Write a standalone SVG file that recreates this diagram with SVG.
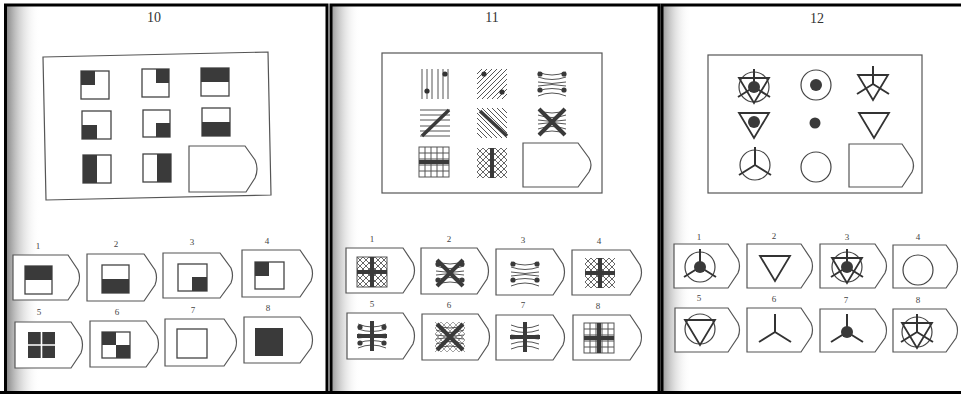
<svg xmlns="http://www.w3.org/2000/svg" xmlns:xlink="http://www.w3.org/1999/xlink" width="961" height="394" viewBox="0 0 961 394">
<style>
.frame{fill:none;stroke:#000;stroke-width:3}
.box{fill:none;stroke:#555;stroke-width:1.2}
.opt{fill:#fff;stroke:#555;stroke-width:1.2}
.sq{fill:#fff;stroke:#444;stroke-width:1.3}
.dk{fill:#3a3a3a}
.ttl{font-family:"Liberation Serif","DejaVu Serif",serif;font-size:14px;fill:#333;text-anchor:middle}
.num{font-family:"Liberation Serif","DejaVu Serif",serif;font-size:9px;fill:#444;text-anchor:middle}
.k{stroke:#3a3a3a;stroke-width:3.5;fill:none}
</style>
<defs>
<linearGradient id="shade" x1="0" y1="0" x2="1" y2="0">
<stop offset="0" stop-color="#777" stop-opacity="0.9"/>
<stop offset="0.4" stop-color="#aaa" stop-opacity="0.5"/>
<stop offset="1" stop-color="#fff" stop-opacity="0"/>
</linearGradient>
<clipPath id="c30"><rect x="0" y="0" width="30" height="30"/></clipPath>
<g id="vl" fill="none" stroke="#555" stroke-width="1"><path d="M2,0V30M7,0V30M12,0V30M18,0V30M23,0V30M28,0V30"/></g>
<g id="hl" fill="none" stroke="#555" stroke-width="1"><path d="M0,2H30M0,7H30M0,12H30M0,18H30M0,23H30M0,28H30"/></g>
<g id="dl" fill="none" stroke="#555" stroke-width="1" clip-path="url(#c30)"><path d="M0,5L5,0M0,10L10,0M0,15L15,0M0,20L20,0M0,25L25,0M0,30L30,0M5,30L30,5M10,30L30,10M15,30L30,15M20,30L30,20M25,30L30,25"/></g>
<g id="bl" fill="none" stroke="#555" stroke-width="1" clip-path="url(#c30)"><path d="M30,5L25,0M30,10L20,0M30,15L15,0M30,20L10,0M30,25L5,0M30,30L0,0M25,30L0,5M20,30L0,10M15,30L0,15M10,30L0,20M5,30L0,25"/></g>
<g id="xh" fill="none" stroke="#555" stroke-width="0.9" clip-path="url(#c30)"><path d="M0,6L6,0M0,12L12,0M0,18L18,0M0,24L24,0M0,30L30,0M6,30L30,6M12,30L30,12M18,30L30,18M24,30L30,24M30,6L24,0M30,12L18,0M30,18L12,0M30,24L6,0M30,30L0,0M24,30L0,6M18,30L0,12M12,30L0,18M6,30L0,24"/></g>
<g id="grid" fill="none" stroke="#555" stroke-width="1"><rect x="0" y="0" width="30" height="30"/><path d="M6,0V30M12,0V30M18,0V30M24,0V30M0,6H30M0,12H30M0,18H30M0,24H30"/></g>
<g id="arcs" fill="none" stroke="#555" stroke-width="1"><path d="M1,3Q15,9 29,3M1,8Q15,13 29,8M1,13Q15,16 29,13M1,17Q15,14 29,17M1,22Q15,17 29,22M1,27Q15,21 29,27"/></g>
<g id="plus"><path d="M15,0V30M0,15H30" stroke="#3a3a3a" stroke-width="4" fill="none"/></g>
<g id="ex"><path d="M2,2L28,28M28,2L2,28" stroke="#3a3a3a" stroke-width="4" fill="none"/></g>
<g id="dots4" fill="#3a3a3a"><circle cx="3" cy="5" r="2.6"/><circle cx="27" cy="5" r="2.6"/><circle cx="3" cy="21" r="2.6"/><circle cx="27" cy="21" r="2.6"/></g>
<circle id="circ" cx="0" cy="0" r="15" fill="none" stroke="#444" stroke-width="1.2"/>
<path id="tri" d="M-15,-9H15L0,16Z" fill="none" stroke="#333" stroke-width="1.8" stroke-linejoin="miter"/>
<path id="spk" d="M0,0V-18M0,0L-16,10M0,0L16,10" fill="none" stroke="#333" stroke-width="2"/>
<circle id="dot" cx="0" cy="0" r="6" fill="#3a3a3a"/>
</defs>

<rect x="0" y="0" width="961" height="394" fill="#fff"/>

<g id="shading">
<rect x="6" y="6" width="34" height="385" fill="url(#shade)"/>
<rect x="332" y="6" width="28" height="385" fill="url(#shade)" opacity="0.8"/>
<rect x="663" y="6" width="28" height="385" fill="url(#shade)" opacity="0.8"/>
</g>

<g id="frames">
<path class="frame" d="M5.5,392V5H327V392"/>
<path class="frame" d="M331,392V5H659V392"/>
<path class="frame" d="M662,392V5H961"/>
<path class="frame" d="M0,392.5H961"/>
</g>

<g id="titles">
<text class="ttl" x="154" y="22">10</text>
<text class="ttl" x="492" y="22">11</text>
<text class="ttl" x="817" y="23">12</text>
</g>

<!-- ===== Puzzle 10 ===== -->
<g id="p10-matrix">
<polygon class="box" points="43,57 268,52 271,195 46,200"/>
<g id="p10-c1"><rect class="sq" x="81" y="71" width="28" height="28"/><rect class="dk" x="81" y="71" width="14" height="14"/></g>
<g id="p10-c2"><rect class="sq" x="142" y="69" width="27" height="28"/><rect class="dk" x="156" y="69" width="13" height="14"/></g>
<g id="p10-c3"><rect class="sq" x="201" y="68" width="28" height="28"/><rect class="dk" x="201" y="68" width="28" height="14"/></g>
<g id="p10-c4"><rect class="sq" x="82" y="111" width="29" height="28"/><rect class="dk" x="82" y="125" width="15" height="14"/></g>
<g id="p10-c5"><rect class="sq" x="143" y="110" width="27" height="27"/><rect class="dk" x="156" y="123" width="14" height="14"/></g>
<g id="p10-c6"><rect class="sq" x="202" y="108" width="28" height="28"/><rect class="dk" x="202" y="122" width="28" height="14"/></g>
<g id="p10-c7"><rect class="sq" x="83" y="155" width="28" height="28"/><rect class="dk" x="83" y="155" width="14" height="28"/></g>
<g id="p10-c8"><rect class="sq" x="143" y="154" width="28" height="28"/><rect class="dk" x="157" y="154" width="14" height="28"/></g>
<path id="p10-blank" class="opt" d="M189,146H245L255,160Q259,169 255,178L246,192H189Z"/>
</g>

<g id="p10-options">
<g id="p10-o1"><text class="num" x="38" y="249">1</text><path class="opt" d="M13,255H68L78,270Q81,277.5 78,285L68,300H13Z"/><rect class="sq" x="25" y="266" width="27" height="28"/><rect class="dk" x="25" y="266" width="27" height="14"/></g>
<g id="p10-o2"><text class="num" x="116" y="247">2</text><path class="opt" d="M87,254H144L155,270Q158,277.5 155,285L144,301H87Z"/><rect class="sq" x="102" y="265" width="27" height="28"/><rect class="dk" x="102" y="279" width="27" height="14"/></g>
<g id="p10-o3"><text class="num" x="192" y="245">3</text><path class="opt" d="M163,253H220L231,268Q234,275.5 231,283L220,298H163Z"/><rect class="sq" x="178" y="264" width="29" height="27"/><rect class="dk" x="192" y="277" width="15" height="14"/></g>
<g id="p10-o4"><text class="num" x="267" y="244">4</text><path class="opt" d="M242,250H300L311,266Q314,273.5 311,281L300,297H242Z"/><rect class="sq" x="255" y="262" width="29" height="27"/><rect class="dk" x="255" y="262" width="14" height="14"/></g>
<g id="p10-o5"><text class="num" x="39" y="315">5</text><path class="opt" d="M15,322H71L81,337Q84,345 81,353L71,368H15Z"/><rect class="dk" x="28" y="332" width="27" height="26"/><path d="M41.5,332V358M28,345H55" stroke="#fff" stroke-width="1.6"/></g>
<g id="p10-o6"><text class="num" x="117" y="315">6</text><path class="opt" d="M90,321H146L157,336Q160,344 157,352L146,367H90Z"/><rect class="sq" x="102" y="332" width="28" height="26"/><rect class="dk" x="102" y="332" width="14" height="13"/><rect class="dk" x="116" y="345" width="14" height="13"/></g>
<g id="p10-o7"><text class="num" x="193" y="313">7</text><path class="opt" d="M165,319H224L235,335Q238,342.5 235,350L224,366H165Z"/><rect class="sq" x="177" y="329" width="30" height="29"/></g>
<g id="p10-o8"><text class="num" x="268" y="311">8</text><path class="opt" d="M244,317H300L311,332Q314,340 311,348L300,363H244Z"/><rect class="dk" x="255" y="328" width="28" height="28"/></g>
</g>

<!-- ===== Puzzle 11 ===== -->
<g id="p11-matrix">
<rect class="box" x="382" y="53" width="220" height="140"/>
<g id="p11-c1"><use xlink:href="#vl" x="420" y="69"/><circle cx="427" cy="91" r="2.6" fill="#333"/><circle cx="445" cy="74" r="2.6" fill="#333"/></g>
<g id="p11-c2"><use xlink:href="#dl" x="477" y="69"/><circle cx="484" cy="74" r="2.6" fill="#333"/><circle cx="502" cy="92" r="2.6" fill="#333"/></g>
<g id="p11-c3"><use xlink:href="#arcs" x="537" y="69"/><use xlink:href="#dots4" x="537" y="69"/></g>
<g id="p11-c4"><use xlink:href="#hl" x="420" y="108"/><path class="k" d="M422,136L449,110"/></g>
<g id="p11-c5"><use xlink:href="#bl" x="477" y="108"/><path class="k" d="M480,111L507,136"/></g>
<g id="p11-c6"><use xlink:href="#arcs" x="537" y="107"/><use xlink:href="#ex" x="537" y="107"/></g>
<g id="p11-c7"><use xlink:href="#grid" x="419" y="147"/><path d="M419,162H449" stroke="#3a3a3a" stroke-width="4"/></g>
<g id="p11-c8"><use xlink:href="#xh" x="477" y="148"/><path d="M492,148V178" stroke="#3a3a3a" stroke-width="4"/></g>
<path id="p11-blank" class="opt" d="M523,143H578L589,158Q593,165 589,172L578,187H523Z"/>
</g>

<g id="p11-options">
<g id="p11-o1"><text class="num" x="372" y="242">1</text><path class="opt" d="M346,248H403L413,263Q416,270.5 413,278L403,293H346Z"/><rect x="357" y="257" width="30" height="30" fill="none" stroke="#555"/><use xlink:href="#xh" x="357" y="257"/><use xlink:href="#plus" x="357" y="257"/></g>
<g id="p11-o2"><text class="num" x="449" y="242">2</text><path class="opt" d="M421,248H477L487,263Q490,271 487,279L477,294H421Z"/><use xlink:href="#arcs" x="435" y="258"/><use xlink:href="#ex" x="435" y="258"/><use xlink:href="#dots4" x="435" y="259"/></g>
<g id="p11-o3"><text class="num" x="523" y="243">3</text><path class="opt" d="M496,249H553L563,264Q566,272 563,280L553,295H496Z"/><use xlink:href="#arcs" x="510" y="259"/><use xlink:href="#dots4" x="510" y="259"/></g>
<g id="p11-o4"><text class="num" x="599" y="244">4</text><path class="opt" d="M572,250H630L640,265Q643,272.5 640,280L630,295H572Z"/><use xlink:href="#xh" x="585" y="258"/><use xlink:href="#plus" x="585" y="258"/></g>
<g id="p11-o5"><text class="num" x="372" y="307">5</text><path class="opt" d="M347,313H403L413,328Q416,336 413,344L403,359H347Z"/><use xlink:href="#arcs" x="357" y="321"/><use xlink:href="#plus" x="357" y="321"/><use xlink:href="#dots4" x="357" y="322"/></g>
<g id="p11-o6"><text class="num" x="449" y="308">6</text><path class="opt" d="M422,314H478L488,329Q491,337 488,345L478,360H422Z"/><use xlink:href="#arcs" x="435" y="322"/><use xlink:href="#xh" x="435" y="322" opacity="0.6"/><use xlink:href="#ex" x="435" y="322"/></g>
<g id="p11-o7"><text class="num" x="523" y="308">7</text><path class="opt" d="M496,315H553L563,330Q566,337.5 563,345L553,360H496Z"/><use xlink:href="#arcs" x="510" y="322"/><use xlink:href="#plus" x="510" y="322"/></g>
<g id="p11-o8"><text class="num" x="598" y="309">8</text><path class="opt" d="M573,315H630L640,330Q643,337.5 640,345L630,360H573Z"/><use xlink:href="#grid" x="584" y="323"/><use xlink:href="#plus" x="584" y="323"/></g>
</g>

<!-- ===== Puzzle 12 ===== -->
<g id="p12-matrix">
<rect class="box" x="708" y="55" width="214" height="138"/>
<g id="p12-c1"><use xlink:href="#circ" x="754" y="87"/><use xlink:href="#tri" x="754" y="87"/><use xlink:href="#spk" x="754" y="87"/><use xlink:href="#dot" x="754" y="87"/></g>
<g id="p12-c2"><use xlink:href="#circ" x="816" y="85"/><use xlink:href="#dot" x="816" y="85"/></g>
<g id="p12-c3"><use xlink:href="#tri" x="873" y="84"/><use xlink:href="#spk" x="873" y="84"/></g>
<g id="p12-c4"><use xlink:href="#tri" x="754" y="122"/><use xlink:href="#dot" x="754" y="122"/></g>
<g id="p12-c5"><circle cx="815" cy="123" r="5.5" fill="#3a3a3a"/></g>
<g id="p12-c6"><use xlink:href="#tri" x="874" y="122"/></g>
<g id="p12-c7"><use xlink:href="#circ" x="755" y="165"/><use xlink:href="#spk" x="755" y="165"/></g>
<g id="p12-c8"><use xlink:href="#circ" x="816" y="167"/></g>
<path id="p12-blank" class="opt" d="M849,144H902L912,159Q915,165.5 912,172L902,187H849Z"/>
</g>

<g id="p12-options">
<g id="p12-o1"><text class="num" x="699" y="240">1</text><path class="opt" d="M674,244H728L738,259Q741,266 738,273L728,288H674Z"/><use xlink:href="#circ" x="700" y="267"/><use xlink:href="#spk" x="700" y="267"/><use xlink:href="#dot" x="700" y="267"/></g>
<g id="p12-o2"><text class="num" x="774" y="239">2</text><path class="opt" d="M747,244H801L811,259Q814,266 811,273L801,288H747Z"/><use xlink:href="#tri" x="775" y="265"/></g>
<g id="p12-o3"><text class="num" x="847" y="240">3</text><path class="opt" d="M820,244H875L885,259Q888,266 885,273L875,288H820Z"/><use xlink:href="#circ" x="847" y="267"/><use xlink:href="#tri" x="847" y="267"/><use xlink:href="#spk" x="847" y="267"/><use xlink:href="#dot" x="847" y="267"/></g>
<g id="p12-o4"><text class="num" x="918" y="240">4</text><path class="opt" d="M893,245H946L956,259Q959,266.5 956,274L946,288H893Z"/><use xlink:href="#circ" x="918" y="270"/></g>
<g id="p12-o5"><text class="num" x="699" y="301">5</text><path class="opt" d="M675,308H728L738,323Q741,330 738,337L728,352H675Z"/><use xlink:href="#circ" x="700" y="329"/><use xlink:href="#tri" x="700" y="329"/></g>
<g id="p12-o6"><text class="num" x="774" y="302">6</text><path class="opt" d="M747,308H801L811,323Q814,330 811,337L801,352H747Z"/><use xlink:href="#spk" x="775" y="332"/></g>
<g id="p12-o7"><text class="num" x="846" y="303">7</text><path class="opt" d="M820,309H875L885,323Q888,330.5 885,338L875,352H820Z"/><use xlink:href="#spk" x="847" y="332"/><use xlink:href="#dot" x="847" y="332"/></g>
<g id="p12-o8"><text class="num" x="918" y="303">8</text><path class="opt" d="M893,309H946L956,323Q959,330.5 956,338L946,352H893Z"/><use xlink:href="#circ" x="917" y="332"/><use xlink:href="#tri" x="917" y="332"/><use xlink:href="#spk" x="917" y="332"/></g>
</g>
</svg>
